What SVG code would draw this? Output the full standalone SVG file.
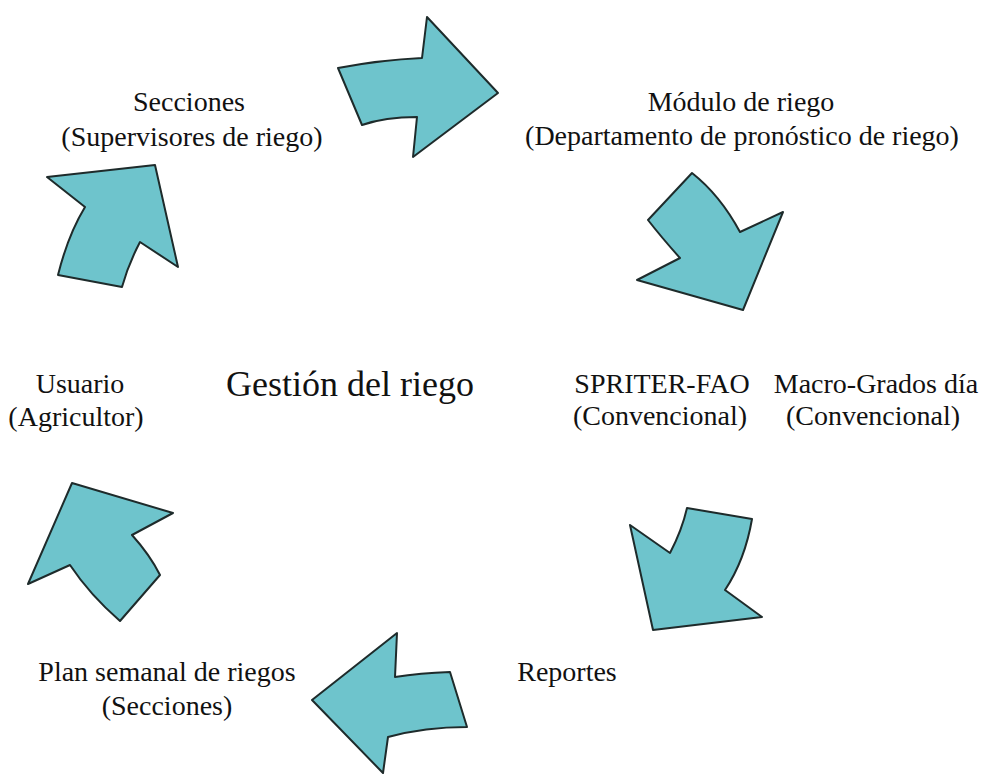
<svg xmlns="http://www.w3.org/2000/svg" width="985" height="776" viewBox="0 0 985 776">
<style>
.arrow{fill:#6ec4cc;stroke:#1e2b2b;stroke-width:2;stroke-linejoin:round}
.lbl text{font-size:28px;fill:#111}
.c{text-anchor:middle}
.lbl text.big{font-size:36px}
</style>
<rect width="985" height="776" fill="#ffffff"/>
<g id="connectors">
<path id="arrow1" class="arrow" d="M338,68 Q380,60 422,58 L427,17 L498,93 L413,157 L417,117 Q385,117 362,125 Z"/>
<path id="arrow2" class="arrow" d="M692,173 Q720,195 740,232 L783,212 L743,310 L637,280 L680,258 Q662,238 648,220 Z"/>
<path id="arrow3" class="arrow" d="M687,508 L752,519 Q745,560 725,590 L762,617 L653,630 L630,525 L670,553 Q682,530 687,508 Z"/>
<path id="arrow4" class="arrow" d="M397,633 L395,677 Q420,673 450,672 L467,727 Q425,727 388,737 L383,773 L312,700 Z"/>
<path id="arrow5" class="arrow" d="M72,483 L173,513 L132,535 Q150,555 160,575 L120,621 Q90,595 70,565 L28,584 Z"/>
<path id="arrow6" class="arrow" d="M47,177 L155,165 L178,267 L140,242 Q128,265 122,287 L58,275 Q68,235 85,207 Z"/>
</g>
<g class="lbl" font-family="'Liberation Serif', Times, 'DejaVu Serif', serif">
<g id="secciones">
<text class="c" x="189" y="111">Secciones</text>
<text class="c" x="192" y="146">(Supervisores de riego)</text>
</g>
<g id="modulo">
<text class="c" x="741" y="111">Módulo de riego</text>
<text class="c" x="742" y="145">(Departamento de pronóstico de riego)</text>
</g>
<g id="usuario">
<text class="c" x="80" y="393">Usuario</text>
<text class="c" x="76" y="426">(Agricultor)</text>
</g>
<g id="gestion">
<text class="c big" x="350" y="396">Gestión del riego</text>
</g>
<g id="spriter">
<text class="c" x="662" y="393">SPRITER-FAO</text>
<text class="c" x="660" y="425">(Convencional)</text>
</g>
<g id="macro">
<text class="c" x="876" y="393">Macro-Grados día</text>
<text class="c" x="873" y="425">(Convencional)</text>
</g>
<g id="plan">
<text class="c" x="167" y="681">Plan semanal de riegos</text>
<text class="c" x="167" y="715">(Secciones)</text>
</g>
<g id="reportes">
<text class="c" x="567" y="681">Reportes</text>
</g>
</g>
</svg>
